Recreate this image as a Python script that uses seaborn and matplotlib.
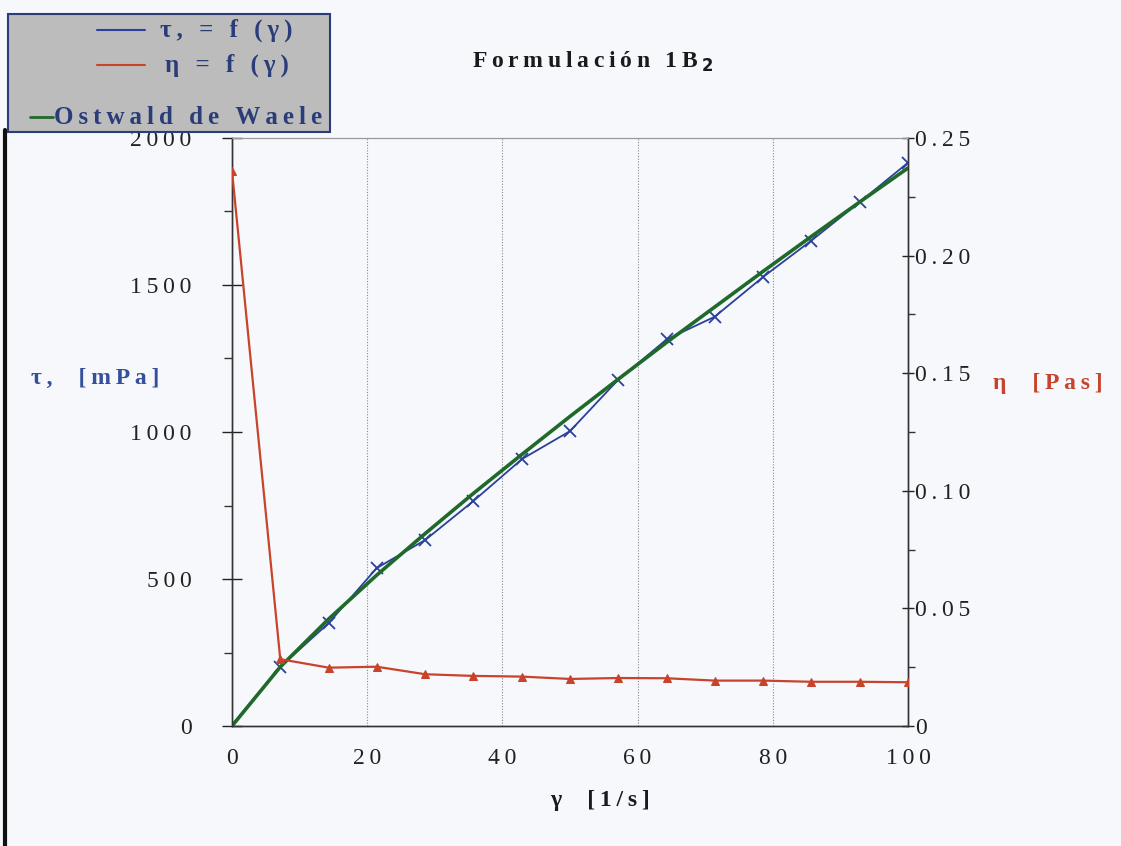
import matplotlib
matplotlib.use("Agg")
import matplotlib.pyplot as plt
from matplotlib.lines import Line2D
from matplotlib.patches import Rectangle
from matplotlib.ticker import MultipleLocator
import seaborn as sns
import pandas as pd

# ---- data ----
shear_rate = [0, 7.14, 14.3, 21.4, 28.6, 35.7, 42.9, 50.0, 57.1, 64.3, 71.4, 78.6, 85.7, 92.9, 100.0]
shear_stress = [3, 201, 350, 537, 633, 765, 908, 1003, 1177, 1315, 1392, 1528, 1651, 1783, 1916]
viscosity = [0.236, 0.0284, 0.0248, 0.0252, 0.0220, 0.0213, 0.0210, 0.0200, 0.0204, 0.0203,
             0.0193, 0.0193, 0.0188, 0.0188, 0.0186]
ostwald_fit = [0, 201, 364, 513, 655, 791, 924, 1053, 1179, 1305, 1425, 1547, 1665, 1783, 1898]

x_ticks = [0, 20, 40, 60, 80, 100]
x_tick_labels = ["0", "20", "40", "60", "80", "100"]
left_ticks = [0, 500, 1000, 1500, 2000]
left_tick_labels = ["0", "500", "1000", "1500", "2000"]
right_ticks = [0, 0.05, 0.10, 0.15, 0.20, 0.25]
right_tick_labels = ["0", "0.05", "0.10", "0.15", "0.20", "0.25"]

title = "Formulación 1B"
title_sub = "2"
legend_labels = ["τ, = f (γ)", "η = f (γ)", "Ostwald de Waele"]
left_label = "τ,  [mPa]"
right_label = "η  [Pas]"
x_label = "γ  [1/s]"

df = pd.DataFrame({"gamma": shear_rate, "tau": shear_stress, "eta": viscosity, "fit": ostwald_fit})

sns.set_style("white")
plt.rcParams["font.family"] = ["Liberation Serif", "DejaVu Serif"]

THIN = "\u2009"


def sp(s, k=1):
    return (THIN * k).join(s)


BG = "#f6f8fc"
BLUE = "#2b3f9c"
RED = "#c8432b"
GREEN = "#1f6a2a"
NAVY = "#2a3d78"

W, H = 1121, 846
fig = plt.figure(figsize=(W / 100, H / 100), dpi=100, facecolor=BG)
ax = fig.add_axes([232 / W, 1 - 726 / H, (908 - 232) / W, (726 - 138) / H])
ax.set_facecolor(BG)
ax2 = ax.twinx()

sns.lineplot(data=df, x="gamma", y="tau", ax=ax, color=BLUE, lw=1.3, marker="x",
             markersize=8, markeredgewidth=1.3, markeredgecolor=BLUE, zorder=3, legend=False)
sns.lineplot(data=df, x="gamma", y="fit", ax=ax, color=GREEN, lw=2.6, zorder=4, legend=False)
sns.lineplot(data=df, x="gamma", y="eta", ax=ax2, color=RED, lw=1.6, marker="^",
             markersize=6, markeredgecolor=RED, markerfacecolor=RED, zorder=5, legend=False)

ax.set_xlim(0, 100)
ax.set_ylim(0, 2000)
ax2.set_ylim(0, 0.25)
ax.set_xticks(x_ticks)
ax.set_xticklabels([sp(t) for t in x_tick_labels])
ax.set_yticks(left_ticks)
ax.set_yticklabels([sp(t) for t in left_tick_labels])
ax2.set_yticks(right_ticks)
ax2.set_yticklabels([sp(t) for t in right_tick_labels])
ax.xaxis.set_minor_locator(MultipleLocator(10))
ax.yaxis.set_minor_locator(MultipleLocator(250))
ax2.yaxis.set_minor_locator(MultipleLocator(0.025))

for a in (ax, ax2):
    for s in a.spines.values():
        s.set_color("#333333")
        s.set_linewidth(1.0)
    a.spines["top"].set_color("#999999")
    a.spines["top"].set_linewidth(0.8)

ax.tick_params(axis="x", which="major", direction="out", length=8, width=1, labelsize=17,
               pad=8, colors="#222222")
ax.tick_params(axis="x", which="minor", direction="out", length=6, width=1, colors="#333333")
ax.tick_params(axis="y", which="major", direction="inout", length=14, width=1, labelsize=17,
               pad=22, colors="#222222")
ax.tick_params(axis="y", which="minor", direction="out", length=6, width=1, colors="#333333")
ax2.tick_params(axis="y", which="major", direction="inout", length=8, width=1, labelsize=17,
                pad=1, colors="#222222")
ax2.tick_params(axis="y", which="minor", direction="out", length=5, width=1, colors="#333333")

ax.grid(False)
ax2.grid(False)
ax.xaxis.grid(True, which="major", linestyle=(0, (1, 1.5)), color="#8a8a8a", lw=0.8)
ax.set_axisbelow(True)

ax.set_xlabel("")
ax.set_ylabel("")
ax2.set_ylabel("")

fig.text(593 / W, 1 - 62 / H, sp(title, 1) + THIN + "$_{\\mathbf{" + title_sub + "}}$",
         ha="center", va="center", fontsize=17, fontweight="bold", color="#1a1a1a")
fig.text(95 / W, 1 - 378 / H, sp(left_label, 1), ha="center", va="center", fontsize=17,
         fontweight="bold", color="#34509c")
fig.text(1048 / W, 1 - 383 / H, sp(right_label, 1), ha="center", va="center", fontsize=17,
         fontweight="bold", color=RED)
fig.text(600 / W, 1 - 800 / H, sp(x_label, 1), ha="center", va="center", fontsize=17,
         fontweight="bold", color="#1a1a1a")

# ---- legend box (drawn as in the reference) ----
fig.add_artist(Rectangle((8 / W, 1 - 132 / H), (330 - 8) / W, (132 - 14) / H,
                         transform=fig.transFigure, facecolor="#bcbcbc",
                         edgecolor="#2a3d78", lw=1.5, zorder=10))
leg_colors = [BLUE, RED, GREEN]
leg_lines = [(97, 145, 30), (97, 145, 65), (30, 53, 117)]
leg_text_x = [160, 165, 54]
for (x0, x1, yy), c, lab, tx in zip(leg_lines, leg_colors, legend_labels, leg_text_x):
    fig.add_artist(Line2D([x0 / W, x1 / W], [1 - yy / H, 1 - yy / H], color=c,
                          lw=1.5 if c != GREEN else 2.0, transform=fig.transFigure, zorder=11))
    fig.text(tx / W, 1 - yy / H, sp(lab, 1), ha="left", va="center",
             fontsize=18, fontweight="bold", color=NAVY, zorder=12)

fig.add_artist(Line2D([5 / W, 5 / W], [0, 1 - 130 / H], color="#111111", lw=3,
                      transform=fig.transFigure))

fig.savefig("out.png", dpi=100, facecolor=BG)
